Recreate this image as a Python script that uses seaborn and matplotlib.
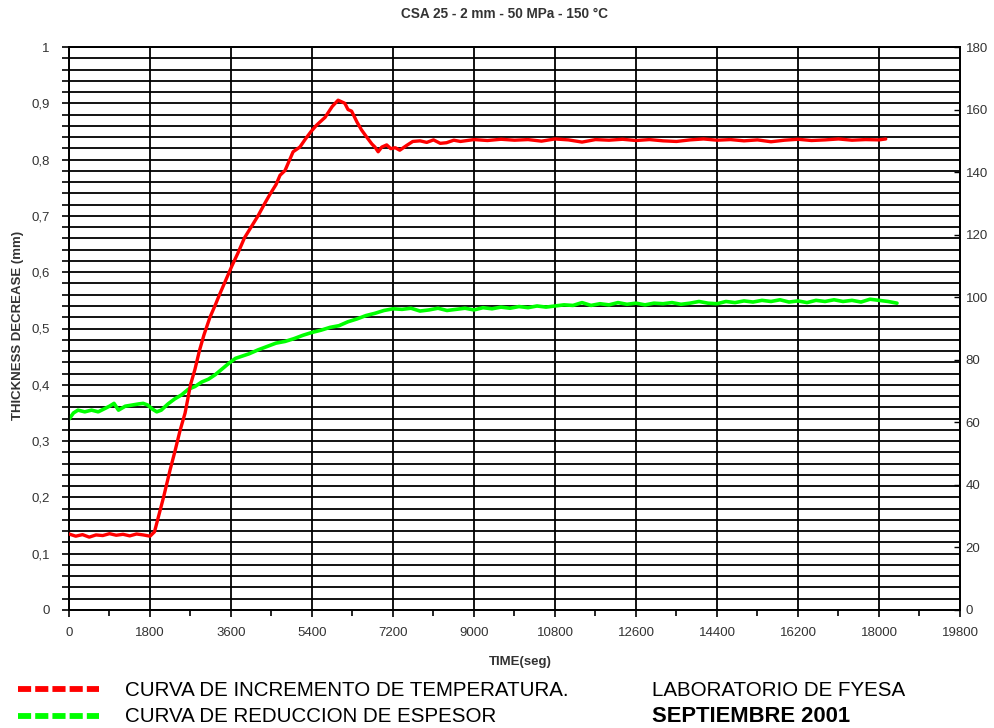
import numpy as np
import pandas as pd
import matplotlib
matplotlib.use("Agg")
import matplotlib.pyplot as plt
import seaborn as sns
from matplotlib.lines import Line2D
from matplotlib.ticker import MultipleLocator, FuncFormatter

# ---------------- data ----------------
title = "CSA 25 - 2 mm - 50 MPa - 150 °C"
xlabel = "TIME(seg)"
ylabel = "THICKNESS DECREASE (mm)"
legend_temp = "CURVA DE INCREMENTO DE TEMPERATURA."
legend_thick = "CURVA DE REDUCCION DE ESPESOR"
lab_text = "LABORATORIO DE FYESA"
date_text = "SEPTIEMBRE 2001"

temp_time = [0, 150, 300, 450, 600, 750, 900, 1050, 1200, 1350, 1500, 1650, 1800,
             1900, 2000, 2100, 2250, 2350, 2470, 2580, 2700, 2800, 2900, 3000, 3130,
             3250, 3350, 3500, 3620, 3750, 3900, 4050, 4200, 4350, 4470, 4600, 4690,
             4800, 4980, 5130, 5250, 5380, 5500, 5690, 5850, 5980, 6130, 6200, 6280,
             6400, 6500, 6600, 6730, 6800, 6870, 6950, 7060, 7150, 7250, 7350, 7500,
             7640, 7800, 7950, 8100, 8250, 8390, 8550, 8700, 9000, 9300, 9600, 9900,
             10200, 10500, 10800, 11100, 11400, 11700, 12000, 12300, 12600, 12900,
             13200, 13500, 13800, 14100, 14400, 14700, 15000, 15300, 15600, 15900,
             16200, 16500, 16800, 17100, 17400, 17700, 18000, 18150]
temp_val = [24.3, 23.6, 24.1, 23.3, 24.0, 23.8, 24.4, 23.9, 24.2, 23.7, 24.3, 24.0, 23.6,
            25.0, 30.5, 36.0, 45.0, 50.5, 57.5, 63.0, 72.0, 77.0, 83.0, 88.0, 93.5,
            97.5, 101.0, 106.0, 110.0, 114.0, 119.0, 122.5, 126.0, 130.0, 133.0, 136.0, 139.0,
            140.5, 146.5, 148.0, 150.5, 153.0, 155.0, 157.5, 161.0, 163.0, 162.0, 160.0, 159.5,
            156.0, 153.5, 151.5, 149.0, 148.0, 146.5, 148.0, 148.7, 147.5, 147.8, 147.0, 148.5,
            149.8, 150.0, 149.5, 150.3, 149.2, 149.4, 150.2, 149.8, 150.4, 150.1, 150.5, 150.2,
            150.4, 149.9, 150.6, 150.3, 149.6, 150.4, 150.2, 150.5, 150.1, 150.4,
            150.0, 149.8, 150.3, 150.6, 150.2, 150.4, 150.0, 150.3, 149.7, 150.2,
            150.5, 150.1, 150.3, 150.6, 150.2, 150.4, 150.3, 150.6]

thick_time = [0, 100, 200, 350, 500, 650, 800, 900, 1000, 1100, 1250, 1400, 1550, 1650,
              1750, 1850, 1950, 2050, 2200, 2350, 2500, 2650, 2800, 2950, 3100, 3250,
              3400, 3550, 3700, 3850, 4000, 4200, 4400, 4600, 4800, 5000, 5200, 5400,
              5600, 5800, 6000, 6200, 6400, 6600, 6800, 7000, 7200, 7400, 7600, 7800,
              8000, 8200, 8400, 8600, 8800, 9000, 9200, 9400, 9600, 9800, 10000, 10200,
              10400, 10600, 10800, 11000, 11200, 11400, 11600, 11800, 12000, 12200, 12400,
              12600, 12800, 13000, 13200, 13400, 13600, 13800, 14000, 14200, 14400, 14600,
              14800, 15000, 15200, 15400, 15600, 15800, 16000, 16200, 16400, 16600, 16800,
              17000, 17200, 17400, 17600, 17800, 18000, 18200, 18400]
thick_val = [0.339, 0.350, 0.355, 0.352, 0.355, 0.352, 0.358, 0.362, 0.367, 0.355, 0.362,
             0.364, 0.366, 0.367, 0.364, 0.357, 0.352, 0.355, 0.366, 0.375, 0.382, 0.392,
             0.397, 0.405, 0.410, 0.418, 0.428, 0.438, 0.447, 0.451, 0.455, 0.462, 0.468,
             0.474, 0.477, 0.482, 0.488, 0.493, 0.497, 0.502, 0.505, 0.512, 0.517, 0.523,
             0.527, 0.532, 0.535, 0.534, 0.536, 0.531, 0.533, 0.536, 0.532, 0.534, 0.536,
             0.533, 0.537, 0.535, 0.538, 0.536, 0.539, 0.537, 0.540, 0.538, 0.540, 0.542,
             0.541, 0.546, 0.541, 0.544, 0.542, 0.546, 0.543, 0.545, 0.542, 0.545, 0.544,
             0.546, 0.543, 0.545, 0.548, 0.545, 0.544, 0.548, 0.546, 0.549, 0.547, 0.550,
             0.548, 0.551, 0.547, 0.549, 0.546, 0.550, 0.548, 0.551, 0.548, 0.550, 0.547,
             0.552, 0.550, 0.548, 0.545]

x_ticks = list(range(0, 19801, 1800))
left_ticks = [0, 0.1, 0.2, 0.3, 0.4, 0.5, 0.6, 0.7, 0.8, 0.9, 1.0]
right_ticks = list(range(0, 181, 20))

# ---------------- style ----------------
sns.set_theme(style="white")
plt.rcParams['font.family'] = ['Liberation Sans', 'DejaVu Sans']

legend_family = ["Liberation Sans", "DejaVu Sans"]
legend_size = 14.8

fig = plt.figure(figsize=(9.95, 7.28), dpi=100)
ax = fig.add_axes([69 / 995, 1 - 610 / 728, (960 - 69) / 995, (610 - 47) / 728])
ax2 = ax.twinx()

df_t = pd.DataFrame({"t": thick_time, "v": thick_val})
df_T = pd.DataFrame({"t": temp_time, "v": temp_val})

sns.lineplot(data=df_t, x="t", y="v", ax=ax, color="#00ff00", lw=2.6,
             estimator=None, sort=False, zorder=5)
sns.lineplot(data=df_T, x="t", y="v", ax=ax2, color="#ff0000", lw=2.4,
             estimator=None, sort=False, zorder=5)

ax.set_xlim(0, 19800)
ax.set_ylim(0, 1)
ax2.set_ylim(0, 180)

ax.set_xticks(x_ticks)
ax.xaxis.set_minor_locator(MultipleLocator(900))
ax.set_yticks(left_ticks)
ax.yaxis.set_minor_locator(MultipleLocator(0.02))
ax2.set_yticks(right_ticks)

def comma_fmt(v, pos):
    if abs(v) < 1e-9:
        return "0"
    if abs(v - 1) < 1e-9:
        return "1"
    return f"{v:.1f}".replace(".", ",")

ax.yaxis.set_major_formatter(FuncFormatter(comma_fmt))

tick_color = "#333333"
ax.tick_params(axis="x", which="major", direction="out", length=5, width=1.2,
               color="black", labelsize=9.5, labelcolor=tick_color, pad=7, bottom=True)
ax.tick_params(axis="x", which="minor", direction="out", length=4, width=1.2,
               color="black", bottom=True)
ax.tick_params(axis="y", which="both", direction="out", length=5, width=1.2,
               color="black", labelsize=9.5, labelcolor=tick_color, pad=9, left=True)
ax2.tick_params(axis="y", which="major", direction="in", length=4, width=1.0,
                color="black", labelsize=9.5, labelcolor=tick_color, pad=4, right=True)

ax.grid(False)
ax2.grid(False)
ax.xaxis.grid(True, which="major", color="black", lw=1.3)
ax.yaxis.grid(True, which="both", color="black", lw=1.3)
ax.set_axisbelow(True)

for a in (ax, ax2):
    for s in a.spines.values():
        s.set_visible(True)
        s.set_color("black")
        s.set_linewidth(1.3)

ax.set_xlabel("")
ax.set_ylabel("")
ax2.set_ylabel("")

fig.text(505 / 995, 1 - 14 / 728, title, ha="center", va="center",
         fontsize=9.8, fontweight="bold", color="#333333")
fig.text(520 / 995, 1 - 662 / 728, xlabel, ha="center", va="center",
         fontsize=9.5, fontweight="bold", color="#333333")
fig.text(18 / 995, 1 - 325 / 728, ylabel, ha="center", va="center", rotation=90,
         fontsize=9.5, fontweight="bold", color="#333333")

# legend-like annotations at the bottom
for ypix, col in ((689, "#ff0000"), (716, "#00ff00")):
    fig.add_artist(Line2D([18 / 995, 99 / 995], [1 - ypix / 728, 1 - ypix / 728],
                          color=col, lw=4.2, ls=(0, (2.25, 0.7)),
                          transform=fig.transFigure, solid_capstyle="butt",
                          dash_capstyle="butt"))

fig.text(125 / 995, 1 - 691 / 728, legend_temp, ha="left", va="center",
         fontsize=legend_size, family=legend_family, color="black")
fig.text(125 / 995, 1 - 717 / 728, legend_thick, ha="left", va="center",
         fontsize=legend_size, family=legend_family, color="black")
fig.text(652 / 995, 1 - 691 / 728, lab_text, ha="left", va="center",
         fontsize=legend_size, family=legend_family, color="black")
fig.text(652 / 995, 1 - 717 / 728, date_text, ha="left", va="center",
         fontsize=15.8, family=legend_family, fontweight="bold", color="black")

fig.savefig("out.png", dpi=100)
